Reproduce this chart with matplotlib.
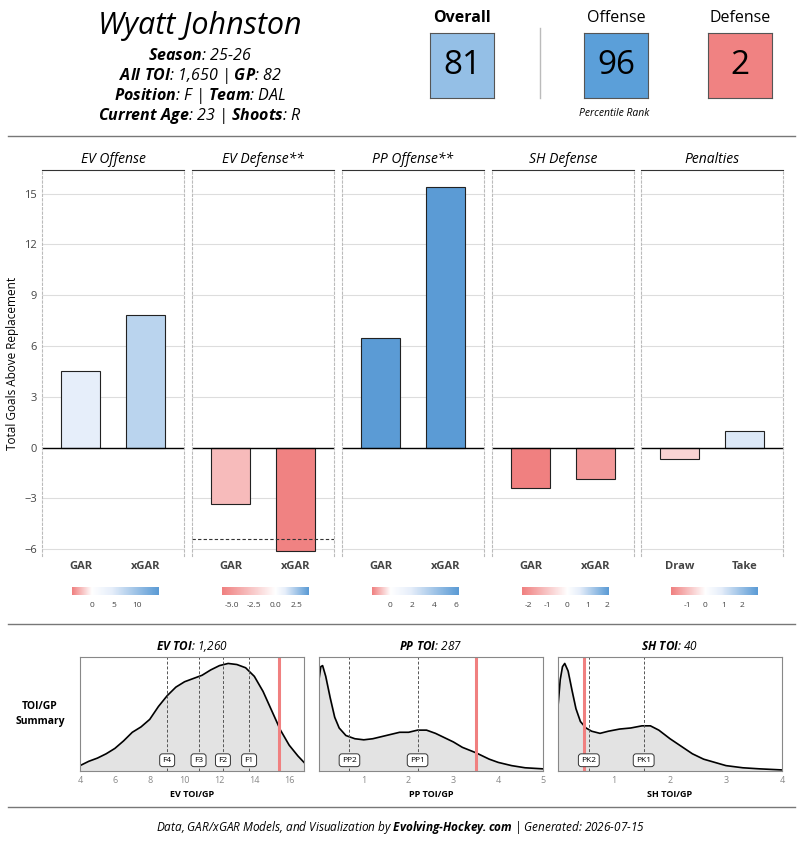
import numpy as np
import matplotlib.pyplot as plt
from matplotlib.colors import LinearSegmentedColormap, TwoSlopeNorm
from matplotlib.lines import Line2D

plt.rcParams['font.family'] = ['Open Sans', 'DejaVu Sans']
plt.rcParams['mathtext.fontset'] = 'custom'
plt.rcParams['mathtext.bf'] = 'Open Sans:italic:bold'
plt.rcParams['mathtext.rm'] = 'Open Sans:italic'
plt.rcParams['mathtext.it'] = 'Open Sans:italic'

# ---- data ----
panels = ["EV Offense", "EV Defense**", "PP Offense**", "SH Defense", "Penalties"]
bar_labels = [["GAR", "xGAR"], ["GAR", "xGAR"], ["GAR", "xGAR"], ["GAR", "xGAR"], ["Draw", "Take"]]
bar_values = [[4.5, 7.85], [-3.3, -6.1], [6.45, 15.4], [-2.4, -1.85], [-0.65, 1.0]]
cbar_ranges = [(-4.4, 15.0), (-6.2, 3.9), (-1.7, 6.3), (-2.3, 2.1), (-1.9, 2.9)]
cbar_ticks = [[0, 5, 10], [-5.0, -2.5, 0.0, 2.5], [0, 2, 4, 6], [-2, -1, 0, 1, 2], [-1, 0, 1, 2]]
cbar_ticklabels = [["0", "5", "10"], ["-5.0", "-2.5", "0.0", "2.5"], ["0", "2", "4", "6"],
                   ["-2", "-1", "0", "1", "2"], ["-1", "0", "1", "2"]]
ev_def_line = -5.4

ratings = [("Overall", 81), ("Offense", 96), ("Defense", 2)]
rating_colors = ["#94bfe6", "#5b9fd9", "#f08282"]

ev_x = [4, 4.5, 5, 5.5, 6, 6.5, 7, 7.5, 8, 8.5, 9, 9.5, 10, 10.5, 11, 11.5, 12, 12.5, 13, 13.5, 14, 14.5, 15, 15.5, 16, 16.5, 16.85]
ev_y = [0.05, 0.09, 0.12, 0.16, 0.21, 0.28, 0.36, 0.41, 0.48, 0.6, 0.7, 0.78, 0.83, 0.86, 0.89, 0.94, 0.98, 1.0, 0.99, 0.96, 0.88, 0.74, 0.56, 0.38, 0.24, 0.14, 0.08]
pp_x = [0.0, 0.04, 0.08, 0.15, 0.25, 0.35, 0.45, 0.6, 0.8, 1.0, 1.2, 1.4, 1.6, 1.8, 2.0, 2.2, 2.4, 2.6, 2.8, 3.0, 3.2, 3.5, 3.8, 4.0, 4.3, 4.6, 5.0]
pp_y = [0.85, 0.97, 0.98, 0.88, 0.68, 0.5, 0.4, 0.33, 0.3, 0.29, 0.3, 0.32, 0.34, 0.36, 0.36, 0.38, 0.38, 0.35, 0.31, 0.27, 0.22, 0.17, 0.11, 0.08, 0.05, 0.03, 0.02]
sh_x = [0.0, 0.04, 0.08, 0.12, 0.18, 0.25, 0.32, 0.4, 0.5, 0.6, 0.75, 0.9, 1.1, 1.3, 1.5, 1.65, 1.8, 2.0, 2.2, 2.4, 2.6, 2.8, 3.0, 3.3, 3.6, 4.0]
sh_y = [0.6, 0.85, 0.97, 1.0, 0.93, 0.75, 0.58, 0.46, 0.4, 0.37, 0.35, 0.37, 0.39, 0.4, 0.42, 0.42, 0.38, 0.3, 0.23, 0.16, 0.11, 0.08, 0.05, 0.03, 0.02, 0.01]
toi_titles = [("EV TOI", "1,260"), ("PP TOI", "287"), ("SH TOI", "40")]
toi_xlabels = ["EV TOI/GP", "PP TOI/GP", "SH TOI/GP"]
toi_xlims = [(4, 16.85), (0, 5), (0, 4)]
toi_ticks = [[4, 6, 8, 10, 12, 14, 16], [1, 2, 3, 4, 5], [1, 2, 3, 4]]
player_toi = [15.4, 3.5, 0.46]
line_pos = [[9.0, 10.8, 12.2, 13.7], [0.68, 2.2], [0.55, 1.53]]
line_names = [["F4", "F3", "F2", "F1"], ["PP2", "PP1"], ["PK2", "PK1"]]
curves = [(ev_x, ev_y), (pp_x, pp_y), (sh_x, sh_y)]

W, H = 800, 850
fig = plt.figure(figsize=(8, 8.5), dpi=100)

def ax_px(x0, y0, x1, y1):
    return fig.add_axes([x0 / W, 1 - y1 / H, (x1 - x0) / W, (y1 - y0) / H])

def hline(y):
    fig.add_artist(Line2D([8 / W, 795 / W], [1 - y / H] * 2, color="#777777", lw=1))

cmap = LinearSegmentedColormap.from_list(
    "rwb", [(0, "#f08080"), (0.5, "#ffffff"), (0.65, "#e6eefa"), (1, "#5b9bd5")])

# ---- header ----
fig.text(200 / W, 1 - 26 / H, "Wyatt Johnston", fontsize=22, style="italic", ha="center", va="center")
hdr = [("Season", "25-26"), ("All TOI", "1,650 | $\\bf{GP}$: 82"),
       ("Position", "F | $\\bf{Team}$: DAL"), ("Current Age", "23 | $\\bf{Shoots}$: R")]
for i, (k, v) in enumerate(hdr):
    fig.text(200 / W, 1 - (56 + i * 20) / H, f"$\\bf{{{k.replace(' ', '~')}}}$: {v}",
             fontsize=11.5, style="italic", ha="center", va="center")
centers = [462, 616, 740]
for (name, val), c, col in zip(ratings, centers, rating_colors):
    fig.text(c / W, 1 - 18 / H, name, fontsize=11.5, ha="center", va="center",
             weight="bold" if name == "Overall" else "normal")
    a = ax_px(c - 32, 33, c + 32, 98)
    a.set_facecolor(col)
    a.set_xticks([]); a.set_yticks([])
    for s in a.spines.values():
        s.set_color("#555555")
    a.text(0.5, 0.5, str(val), fontsize=24, ha="center", va="center", transform=a.transAxes)
fig.add_artist(Line2D([540 / W] * 2, [1 - 28 / H, 1 - 98 / H], color="#bbbbbb", lw=1))
fig.text(614 / W, 1 - 114 / H, "Percentile Rank", fontsize=7.5, style="italic", ha="center", va="center")
hline(136)

# ---- GAR panels ----
lefts = [42, 192, 342, 492, 641]
for i, (p, labs, vals) in enumerate(zip(panels, bar_labels, bar_values)):
    ax = ax_px(lefts[i], 170, lefts[i] + 142, 556)
    norm = TwoSlopeNorm(0, *cbar_ranges[i])
    ax.bar([0, 1], vals, width=0.6, color=[cmap(norm(v)) for v in vals], edgecolor="#222222", lw=0.8)
    ax.set_xlim(-0.6, 1.6)
    ax.set_ylim(-6.4, 16.4)
    ax.set_yticks(range(-6, 16, 3))
    ax.axhline(0, color="black", lw=1)
    ax.grid(axis="y", color="#dddddd", lw=0.8)
    ax.set_axisbelow(True)
    ax.set_xticks([0, 1], labs, fontsize=8.5, color="#555555", weight="bold")
    ax.set_title(p, fontsize=10, style="italic", pad=5)
    for s in ["left", "right"]:
        ax.spines[s].set_linestyle((0, (2, 2)))
        ax.spines[s].set_color("#bbbbbb")
        ax.spines[s].set_linewidth(0.8)
    ax.spines["bottom"].set_visible(False)
    ax.spines["top"].set_color("#333333")
    ax.tick_params(length=0, labelsize=8, colors="#444444")
    if i == 0:
        ax.set_ylabel("Total Goals Above Replacement", fontsize=8.5)
    else:
        ax.set_yticklabels([])
    if i == 1:
        ax.axhline(ev_def_line, color="#333333", lw=0.8, ls=(0, (3, 2)))
    cax = ax_px(lefts[i] + 30, 587, lefts[i] + 117, 595)
    grad = np.linspace(*cbar_ranges[i], 200)[None, :]
    cax.imshow(grad, cmap=cmap, norm=norm, aspect="auto", extent=[*cbar_ranges[i], 0, 1])
    cax.set_yticks([])
    cax.set_xticks(cbar_ticks[i], cbar_ticklabels[i])
    cax.tick_params(length=0, labelsize=6, colors="#444444", pad=5)
    for s in cax.spines.values():
        s.set_visible(False)
hline(624)

# ---- TOI panels ----
fig.text(40 / W, 1 - 714 / H, "TOI/GP\nSummary", fontsize=7.5, weight="bold", ha="center", va="center",
         linespacing=1.6)
tlefts = [80, 319, 558]
for i in range(3):
    ax = ax_px(tlefts[i], 657, tlefts[i] + 224, 771)
    x, y = curves[i]
    ax.fill_between(x, 0, y, color="#e3e3e3")
    ax.plot(x, y, color="black", lw=1.2)
    ax.set_xlim(*toi_xlims[i])
    ax.set_ylim(0, 1.06)
    ax.set_yticks([])
    ax.set_xticks(toi_ticks[i])
    ax.tick_params(length=0, labelsize=6.5, colors="#888888")
    for s in ax.spines.values():
        s.set_color("#888888")
    for xv, nm in zip(line_pos[i], line_names[i]):
        ax.axvline(xv, color="#555555", lw=0.7, ls=(0, (3, 2)))
        ax.text(xv, 0.1, nm, fontsize=6, ha="center", va="center",
                bbox=dict(boxstyle="round,pad=0.35", fc="white", ec="#333333", lw=0.7))
    ax.axvline(player_toi[i], color="#f08080", lw=2.2)
    ax.set_xlabel(toi_xlabels[i], fontsize=6.5, weight="bold", labelpad=4)
    k, v = toi_titles[i]
    ax.set_title(f"$\\bf{{{k.replace(' ', '~')}}}$: {v}", fontsize=8.5, style="italic", pad=5)
hline(807)

fig.text(400 / W, 1 - 828 / H, "Data, GAR/xGAR Models, and Visualization by $\\bf{Evolving\u2010Hockey.com}$ | Generated: 2026-07-15",
         fontsize=8.5, style="italic", ha="center", va="center")

fig.savefig("out.png", dpi=100)
